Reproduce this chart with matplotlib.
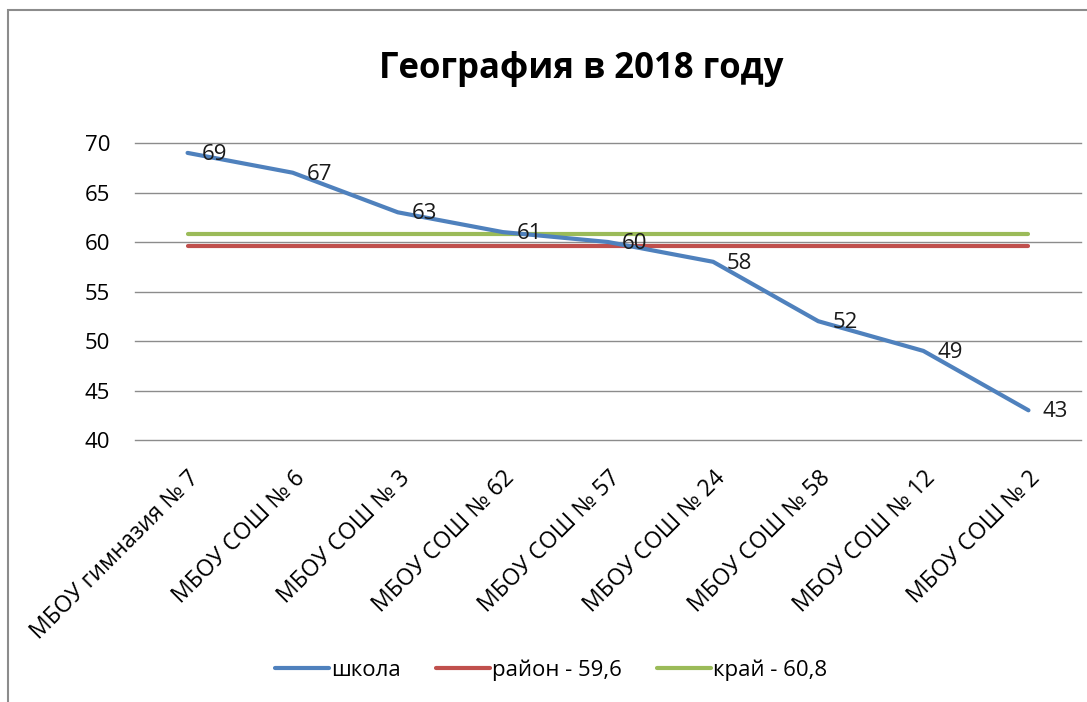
import matplotlib.pyplot as plt
from matplotlib.patches import Rectangle

plt.rcParams['font.family'] = ['Open Sans', 'DejaVu Sans']

# данные
schools = ['МБОУ гимназия № 7', 'МБОУ СОШ № 6', 'МБОУ СОШ № 3', 'МБОУ СОШ № 62',
           'МБОУ СОШ № 57', 'МБОУ СОШ № 24', 'МБОУ СОШ № 58', 'МБОУ СОШ № 12',
           'МБОУ СОШ № 2']
school_scores = [69, 67, 63, 61, 60, 58, 52, 49, 43]
district = [59.6] * len(schools)
region = [60.8] * len(schools)
yticks = [40, 45, 50, 55, 60, 65, 70]

fig = plt.figure(figsize=(10.87, 7.02), dpi=100)
ax = fig.add_axes([0.1242, 0.3732, 0.8703, 0.4231])

# рамка диаграммы
fig.patches.append(Rectangle((8 / 1087, -0.05), 1.2, 1 - 10 / 702 + 0.05,
                             transform=fig.transFigure, fill=False,
                             edgecolor='#8c8c8c', lw=1.5))

x = list(range(len(schools)))
ax.plot(x, school_scores, color='#4F81BD', lw=3, solid_capstyle='round',
        label='школа', zorder=3)
ax.plot(x, district, color='#C0504D', lw=3, solid_capstyle='round',
        label='район - 59,6', zorder=2)
ax.plot(x, region, color='#9BBB59', lw=3, solid_capstyle='round',
        label='край - 60,8', zorder=2)

for xi, v in zip(x, school_scores):
    ax.annotate(str(v), (xi, v), xytext=(10, -1), textcoords='offset points',
                ha='left', va='center', fontsize=16, color='#1a1a1a', zorder=4)

ax.set_xlim(-0.5, len(schools) - 0.5)
ax.set_ylim(40, 70)
ax.set_yticks(yticks)
ax.set_xticks(x)
ax.set_xticklabels(schools, rotation=45, ha='right', rotation_mode='anchor',
                   fontsize=16.5)
ax.tick_params(axis='y', length=0, pad=18, labelsize=16)
ax.tick_params(axis='x', length=0, pad=19)
ax.grid(axis='y', color='#8c8c8c', lw=1, clip_on=False)
ax.set_axisbelow(True)
for s in ax.spines.values():
    s.set_visible(False)

fig.text(0.535, 0.902, 'География в 2018 году', ha='center', va='center',
         fontsize=25, fontweight='bold')

fig.legend(loc='center', bbox_to_anchor=(0.507, 0.045), ncol=3, frameon=False,
           fontsize=16, handlelength=2.4, handletextpad=0.1, columnspacing=1.6)

fig.savefig('out.png', dpi=100)
